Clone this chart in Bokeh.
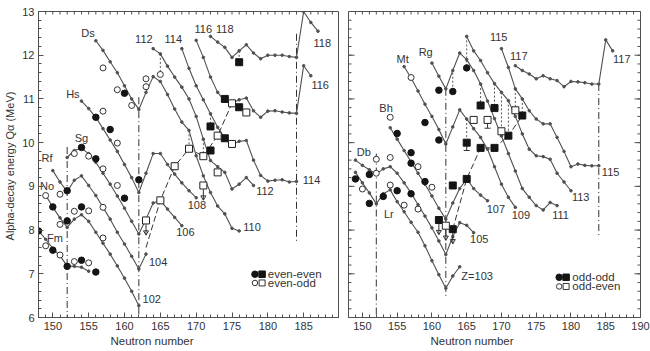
from bokeh.plotting import figure
from bokeh.layouts import row
from bokeh.models import FixedTicker, Range1d, Title
from bokeh.core.properties import value
from bokeh.embed import file_html
from bokeh.resources import INLINE

FONT = "Liberation Sans"
LINE = "#505050"
INK = "#151515"
TXT = "#333333"

# ---------------- LEFT PANEL (even Z): theoretical curves ----------------
N_Z100 = [148, 149, 150, 151, 152, 153, 154, 155]
Q_Z100 = [7.98, 7.79, 7.58, 7.41, 7.18, 7.17, 7.15, 7.06]
N_Z102 = [149, 150, 151, 152, 153, 154, 155, 156, 157, 158, 159, 160, 161, 162]
Q_Z102 = [8.80, 8.52, 8.28, 8.06, 8.25, 8.35, 8.20, 7.95, 7.70, 7.45, 7.18, 6.90, 6.60, 6.27]
N_Z104 = [150, 151, 152, 153, 154, 155, 156, 157, 158, 159, 160, 161, 162, 163]
Q_Z104 = [9.36, 9.10, 8.88, 9.14, 9.24, 9.02, 8.79, 8.52, 8.25, 7.95, 7.68, 7.40, 7.11, 7.45]
N_Z106 = [152, 153, 154, 155, 156, 157, 158, 159, 160, 161, 162, 163, 164, 165, 166, 167, 168]
Q_Z106 = [9.66, 9.82, 9.87, 9.75, 9.55, 9.30, 9.05, 8.78, 8.50, 8.20, 7.91, 8.25, 8.62, 8.68, 8.48, 8.29, 8.10]
N_Z108 = [154, 155, 156, 157, 158, 159, 160, 161, 162, 163, 164, 165, 166, 167, 168, 169, 170]
Q_Z108 = [10.95, 10.78, 10.58, 10.32, 10.06, 9.80, 9.50, 9.20, 8.86, 9.30, 9.75, 9.75, 9.50, 9.28, 9.08, 8.90, 8.74]
N_Z110 = [156, 157, 158, 159, 160, 161, 162, 163, 164, 165, 166, 167, 168, 169, 170, 171, 172, 173, 174, 175, 176]
Q_Z110 = [12.33, 12.11, 11.85, 11.60, 11.30, 11.00, 10.76, 11.15, 11.51, 11.40, 11.10, 10.77, 10.47, 10.28,
          9.70, 9.24, 8.86, 8.55, 8.37, 8.04, 7.98]
N_Z112 = [164, 165, 166, 167, 168, 169, 170, 171, 172, 173, 174, 175, 176, 177, 178]
Q_Z112 = [12.15, 12.03, 11.75, 11.50, 11.27, 11.00, 10.60, 10.08, 9.59, 9.45, 9.32, 8.94, 9.05, 9.20, 9.02]
N_Z114 = [168, 169, 170, 171, 172, 173, 174, 175, 176, 177, 178, 179, 180, 181, 182, 183, 184]
Q_Z114 = [12.15, 11.70, 11.30, 10.98, 10.66, 10.35, 10.10, 9.95, 10.03, 10.05, 9.60, 9.25, 9.12, 9.14, 9.15, 9.10, 9.11]
N_Z116 = [170, 171, 172, 173, 174, 175, 176, 177, 178, 179, 180, 181, 182, 183, 184, 185, 186]
Q_Z116 = [12.34, 11.95, 11.50, 11.15, 10.95, 10.90, 10.98, 11.02, 10.73, 10.58, 10.72, 10.73, 10.70, 10.68,
          10.67, 11.76, 11.53]
N_Z118 = [172, 173, 174, 175, 176, 177, 178, 179, 180, 181, 182, 183, 184, 185, 186, 187]
Q_Z118 = [12.43, 12.30, 12.18, 11.95, 12.10, 12.24, 12.05, 11.92, 12.00, 12.00, 12.00, 11.97, 11.95, 13.00,
          12.75, 12.55]

# left panel experimental values
EE_CIRC_N = [148, 150, 152, 154, 156, 150, 152, 154, 152, 154, 156, 156, 158, 160, 160, 162]
EE_CIRC_Q = [7.98, 7.54, 7.17, 7.31, 7.04, 8.53, 8.21, 8.53, 8.90, 9.89, 9.63, 10.58, 10.30, 11.13, 8.73, 9.15]
EO_CIRC_N = [149, 151, 153, 155, 149, 151, 151, 153, 155, 157, 153, 155, 157, 157, 159, 157, 159, 157, 159,
             161, 163, 163, 165]
EO_CIRC_Q = [7.64, 7.43, 7.28, 7.25, 8.79, 8.82, 8.13, 8.43, 8.44, 7.82, 9.75, 9.69, 9.40, 8.52, 9.02, 10.72,
             9.99, 11.71, 11.21, 10.85, 11.46, 11.28, 11.56]
EE_SQ_N = [172, 174, 176, 174, 172, 176]
EE_SQ_Q = [10.37, 11.00, 10.81, 10.10, 9.82, 11.84]
EO_SQ_N = [163, 165, 167, 169, 171, 173, 175, 177, 175, 173, 171]
EO_SQ_Q = [8.22, 8.68, 9.46, 9.86, 9.69, 10.16, 10.90, 10.69, 9.97, 9.32, 9.02]
ARROW_L_N = [163, 171]
ARROW_L_Q = [8.22, 9.02]
CHAIN_L_N = [163, 165, 167, 169, 171, 173, 175]
CHAIN_L_Q = [7.60, 8.68, 9.46, 9.86, 9.69, 10.16, 10.90]
LINK_L_N = [165, 171, 172, 176, 169]
LINK_L_TOP = [12.03, 10.08, 10.66, 12.10, 10.28]
LINK_L_BOT = [11.56, 9.69, 10.37, 11.84, 9.86]
SHELL_L_N = [152, 162, 184]
SHELL_L_TOP = [9.90, 11.04, 12.49]
SHELL_L_BOT = [6.00, 6.00, 7.72]

LEFT_LABEL_TEXT = ["Ds", "Hs", "Sg", "Rf", "No", "Fm", "112", "114", "116", "118", "118", "116", "114",
                   "112", "110", "108", "106", "104", "102"]
LEFT_LABEL_N = [154.9, 152.8, 154.0, 149.2, 149.2, 150.3, 162.7, 166.8, 171.0, 174.0, 187.6, 187.3, 186.1,
                179.6, 177.8, 170.1, 168.5, 164.7, 163.8]
LEFT_LABEL_Q = [12.50, 11.12, 10.10, 9.66, 9.00, 7.83, 12.37, 12.37, 12.60, 12.60, 12.29, 11.31, 9.15,
                8.90, 8.06, 8.57, 7.95, 7.28, 6.42]

# ---------------- RIGHT PANEL (odd Z): theoretical curves ----------------
N_Z103 = [149, 150, 151, 152, 153, 154, 155, 156, 157, 158, 159, 160, 161, 162, 163, 164]
Q_Z103 = [9.32, 9.08, 8.85, 8.60, 8.83, 8.92, 8.65, 8.42, 8.18, 7.95, 7.64, 7.30, 6.98, 6.67, 6.95, 7.16]
N_Z105 = [149, 150, 151, 152, 153, 154, 155, 156, 157, 158, 159, 160, 161, 162, 163, 164, 165, 166]
Q_Z105 = [9.60, 9.48, 9.38, 9.28, 9.40, 9.45, 9.30, 9.08, 8.85, 8.58, 8.32, 8.05, 7.75, 7.44, 7.85, 8.17,
          8.11, 7.94]
N_Z107 = [154, 155, 156, 157, 158, 159, 160, 161, 162, 163, 164, 165, 166, 167, 168]
Q_Z107 = [10.34, 10.08, 9.82, 9.56, 9.30, 9.05, 8.78, 8.50, 8.25, 8.62, 8.95, 9.17, 8.95, 8.80, 8.67]
N_Z109 = [156, 157, 158, 159, 160, 161, 162, 163, 164, 165, 166, 167, 168, 169, 170, 171, 172]
Q_Z109 = [11.74, 11.48, 11.18, 10.88, 10.60, 10.30, 9.97, 10.36, 10.75, 10.54, 10.32, 10.12, 9.85, 9.45,
          9.05, 8.75, 8.52]
N_Z111 = [160, 161, 162, 163, 164, 165, 166, 167, 168, 169, 170, 171, 172, 173, 174, 175, 176, 177, 178]
Q_Z111 = [11.82, 11.52, 11.23, 11.65, 12.05, 11.90, 11.65, 11.34, 10.95, 10.55, 10.15, 9.75, 9.35, 8.95,
          8.75, 8.56, 8.46, 8.63, 8.56]
N_Z113 = [165, 166, 167, 168, 169, 170, 171, 172, 173, 174, 175, 176, 177, 178, 179, 180]
Q_Z113 = [12.43, 12.10, 11.88, 11.60, 11.35, 11.15, 10.96, 10.60, 10.20, 9.85, 9.70, 9.68, 9.62, 9.30,
          9.10, 8.90]
N_Z115 = [170, 171, 172, 173, 174, 175, 176, 177, 178, 179, 180, 181, 182, 183, 184]
Q_Z115 = [12.15, 11.72, 11.23, 11.00, 10.73, 10.54, 10.43, 10.43, 10.12, 9.80, 9.45, 9.51, 9.48, 9.47, 9.47]
N_Z117 = [172, 173, 174, 175, 176, 177, 178, 179, 180, 181, 182, 183, 184, 185, 186]
Q_Z117 = [11.76, 11.65, 11.57, 11.46, 11.53, 11.46, 11.42, 11.28, 11.40, 11.39, 11.37, 11.34, 11.34,
          12.35, 12.10]

# right panel experimental values
OO_CIRC_N = [149, 151, 153, 155, 157, 159, 151, 157, 155, 157, 159, 161, 161, 163, 165]
OO_CIRC_Q = [9.17, 8.61, 8.77, 8.90, 8.83, 9.11, 9.27, 9.53, 10.21, 9.77, 10.46, 11.20, 10.06, 11.17, 11.71]
OE_CIRC_N = [150, 152, 154, 156, 158, 160, 152, 158, 154, 154, 157]
OE_CIRC_Q = [8.94, 9.30, 9.03, 8.57, 8.48, 8.98, 9.62, 9.45, 9.66, 10.58, 11.49]
OO_SQ_N = [161, 163, 163, 165, 165, 167, 169, 167, 169, 171, 173]
OO_SQ_Q = [8.23, 8.02, 9.02, 9.17, 10.00, 10.85, 10.79, 9.88, 9.88, 10.16, 10.62]
OE_SQ_N = [162, 166, 168, 170, 172]
OE_SQ_Q = [8.10, 10.52, 10.52, 10.26, 10.74]
ARROW_R_N = [161, 162, 163]
ARROW_R_Q = [8.23, 8.10, 8.02]
ERR_R_N = [165, 168]
ERR_R_Q = [10.00, 10.52]
ERR_R_LOW = [9.82, 10.33]
CHAIN_R_N = [163, 165, 167, 169, 171, 173]
CHAIN_R_Q = [8.02, 9.17, 9.88, 9.88, 10.16, 10.62]
LINK_R_N = [163, 165, 167, 169, 165, 171, 172, 173, 170]
LINK_R_TOP = [11.60, 12.43, 11.34, 11.35, 10.54, 10.96, 11.23, 11.00, 11.15]
LINK_R_BOT = [11.17, 11.71, 10.85, 10.79, 10.00, 10.16, 10.74, 10.62, 10.26]
SHELL_R_N = [152, 162, 184]
SHELL_R_TOP = [9.75, 11.23, 11.34]
SHELL_R_BOT = [6.00, 6.43, 7.87]

RIGHT_LABEL_TEXT = ["Db", "Bh", "Mt", "Rg", "115", "117", "117", "115", "113", "111", "109", "107", "105",
                    "Z=103", "Lr"]
RIGHT_LABEL_N = [150.2, 153.4, 155.8, 159.1, 169.6, 172.5, 187.3, 185.7, 181.4, 178.5, 172.8, 169.2,
                 166.8, 166.5, 153.8]
RIGHT_LABEL_Q = [9.78, 10.79, 11.92, 12.07, 12.41, 11.99, 11.92, 9.32, 8.76, 8.35, 8.35, 8.48, 7.80,
                 6.95, 8.37]

X_MAJOR_LEFT = [150, 155, 160, 165, 170, 175, 180, 185]
X_MAJOR_RIGHT = [150, 155, 160, 165, 170, 175, 180, 185, 190]
X_MINOR = list(range(148, 191))
Y_MAJOR = [6, 7, 8, 9, 10, 11, 12, 13]
Y_MINOR = [6 + 0.2 * i for i in range(36)]

X0, X1, Y0, Y1 = 148, 190, 6, 13
FRAME_H = 306


def style_axis(ax, tin=5, tout=0):
    ax.axis_line_color = LINE
    ax.major_tick_line_color = LINE
    ax.minor_tick_line_color = LINE
    ax.major_tick_in = tin
    ax.major_tick_out = tout
    ax.minor_tick_in = 3
    ax.minor_tick_out = 0
    ax.major_label_text_font = FONT
    ax.major_label_text_font_size = "11px"
    ax.major_label_text_color = TXT
    ax.major_label_standoff = 4


def make_panel(width, min_left, min_right, x_major):
    p = figure(width=width, height=351, x_range=Range1d(X0, X1), y_range=Range1d(Y0, Y1),
               output_backend="svg", toolbar_location=None,
               min_border_left=min_left, min_border_right=min_right,
               min_border_top=11, min_border_bottom=34)
    p.xgrid.visible = False
    p.ygrid.visible = False
    p.outline_line_color = LINE
    p.outline_line_width = 1
    p.xaxis.ticker = FixedTicker(ticks=x_major, minor_ticks=X_MINOR)
    p.yaxis.ticker = FixedTicker(ticks=Y_MAJOR, minor_ticks=Y_MINOR)
    return p


def inner_ticks(p, frame_w, sides):
    # tick marks drawn inside the frame on sides without a labelled axis
    dx = (X1 - X0) / frame_w
    dy = (Y1 - Y0) / FRAME_H
    kw = dict(line_color=LINE, line_width=1)
    if "top" in sides:
        p.segment(X_MINOR, [Y1] * len(X_MINOR), X_MINOR, [Y1 - 3 * dy] * len(X_MINOR), **kw)
    if "right" in sides:
        p.segment([X1] * len(Y_MINOR), Y_MINOR, [X1 - 3 * dx] * len(Y_MINOR), Y_MINOR, **kw)
        p.segment([X1] * len(Y_MAJOR), Y_MAJOR, [X1 - 6 * dx] * len(Y_MAJOR), Y_MAJOR, **kw)
    if "left" in sides:
        p.segment([X0] * len(Y_MINOR), Y_MINOR, [X0 + 3 * dx] * len(Y_MINOR), Y_MINOR, **kw)
        p.segment([X0] * len(Y_MAJOR), Y_MAJOR, [X0 + 6 * dx] * len(Y_MAJOR), Y_MAJOR, **kw)


def draw_curves(p, curves):
    for xs, ys in curves:
        p.line(xs, ys, line_color=LINE, line_width=1.1)
        p.scatter(xs, ys, size=2.6, color=LINE)


def draw_text(p, xs, ys, texts):
    p.text(x=xs, y=ys, text=texts, text_font=value(FONT), text_font_size="11px",
           text_color=TXT, text_align="center", text_baseline="middle")


def draw_points(p, fcn, fcq, ocn, ocq, fsn, fsq, osn, osq):
    p.scatter(fcn, fcq, marker="circle", size=6.5, fill_color=INK, line_color=INK)
    p.scatter(ocn, ocq, marker="circle", size=6, fill_color="white", line_color="#333333", line_width=1)
    p.scatter(fsn, fsq, marker="square", size=7, fill_color=INK, line_color=INK)
    p.scatter(osn, osq, marker="square", size=7, fill_color="white", line_color="#222222", line_width=1)


def draw_arrows(p, xs, ys):
    p.segment(xs, [y - 0.09 for y in ys], xs, [y - 0.33 for y in ys], line_color="#333333", line_width=1)
    p.scatter(xs, [y - 0.27 for y in ys], marker="inverted_triangle", size=5,
              fill_color=None, line_color="#333333")


def draw_shell(p, xs, top, bot):
    p.segment(xs, top, xs, bot, line_color="#333333", line_width=1, line_dash="7 3 1 3")


def draw_links(p, xs, top, bot):
    p.segment(xs, top, xs, bot, line_color="#555555", line_width=1, line_dash="2 2")


def legend(p, xc, xsq, xt, y1, y2, t1, t2):
    p.scatter([xc], [y1], marker="circle", size=6.5, fill_color=INK, line_color=INK)
    p.scatter([xsq], [y1], marker="square", size=6.5, fill_color=INK, line_color=INK)
    p.scatter([xc], [y2], marker="circle", size=5.5, fill_color="white", line_color="#333333")
    p.scatter([xsq], [y2], marker="square", size=6, fill_color="white", line_color="#333333")
    p.text(x=[xt, xt], y=[y1, y2], text=[t1, t2], text_font=value(FONT), text_font_size="11.5px",
           text_color=TXT, text_align="left", text_baseline="middle")


def x_title(p, offset):
    t = Title(text="Neutron number", align="left", offset=offset, text_font=FONT,
              text_font_size="11.5px", text_font_style="normal", text_color=TXT, standoff=0)
    p.add_layout(t, "below")


# ---------------- left figure ----------------
p1 = make_panel(339, 38, 0, X_MAJOR_LEFT)
style_axis(p1.xaxis[0])
style_axis(p1.yaxis[0])
p1.yaxis.axis_label = "Alpha-decay energy  Q\u03b1 (MeV)"
p1.yaxis.axis_label_text_font = FONT
p1.yaxis.axis_label_text_font_size = "11px"
p1.yaxis.axis_label_text_font_style = "normal"
p1.yaxis.axis_label_text_color = TXT
p1.yaxis.axis_label_standoff = 3
x_title(p1, 72)
inner_ticks(p1, 301, ["top"])

draw_shell(p1, SHELL_L_N, SHELL_L_TOP, SHELL_L_BOT)
draw_links(p1, LINK_L_N, LINK_L_TOP, LINK_L_BOT)
p1.line(CHAIN_L_N, CHAIN_L_Q, line_color="#333333", line_width=1, line_dash="6 3")
draw_curves(p1, [(N_Z100, Q_Z100), (N_Z102, Q_Z102), (N_Z104, Q_Z104), (N_Z106, Q_Z106),
                 (N_Z108, Q_Z108), (N_Z110, Q_Z110), (N_Z112, Q_Z112), (N_Z114, Q_Z114),
                 (N_Z116, Q_Z116), (N_Z118, Q_Z118)])
draw_arrows(p1, ARROW_L_N, ARROW_L_Q)
draw_points(p1, EE_CIRC_N, EE_CIRC_Q, EO_CIRC_N, EO_CIRC_Q, EE_SQ_N, EE_SQ_Q, EO_SQ_N, EO_SQ_Q)
draw_text(p1, LEFT_LABEL_N, LEFT_LABEL_Q, LEFT_LABEL_TEXT)
legend(p1, 178.2, 179.2, 180.0, 6.99, 6.79, "even-even", "even-odd")

# ---------------- right figure ----------------
p2 = make_panel(311, 9, 10, X_MAJOR_RIGHT)
style_axis(p2.xaxis[0])
p2.yaxis.visible = False
x_title(p2, 82)
inner_ticks(p2, 292, ["top", "right", "left"])

draw_shell(p2, SHELL_R_N, SHELL_R_TOP, SHELL_R_BOT)
draw_links(p2, LINK_R_N, LINK_R_TOP, LINK_R_BOT)
p2.line(CHAIN_R_N, CHAIN_R_Q, line_color="#333333", line_width=1, line_dash="6 3")
draw_curves(p2, [(N_Z103, Q_Z103), (N_Z105, Q_Z105), (N_Z107, Q_Z107), (N_Z109, Q_Z109),
                 (N_Z111, Q_Z111), (N_Z113, Q_Z113), (N_Z115, Q_Z115), (N_Z117, Q_Z117)])
p2.segment(ERR_R_N, ERR_R_Q, ERR_R_N, ERR_R_LOW, line_color="#333333", line_width=1)
p2.scatter(ERR_R_N, ERR_R_LOW, marker="dash", size=6, line_color="#333333")
draw_arrows(p2, ARROW_R_N, ARROW_R_Q)
draw_points(p2, OO_CIRC_N, OO_CIRC_Q, OE_CIRC_N, OE_CIRC_Q, OO_SQ_N, OO_SQ_Q, OE_SQ_N, OE_SQ_Q)
draw_text(p2, RIGHT_LABEL_N, RIGHT_LABEL_Q, RIGHT_LABEL_TEXT)
legend(p2, 178.3, 179.3, 180.2, 6.92, 6.71, "odd-odd", "odd-even")

layout = row(p1, p2)
open("out.html", "w").write(file_html(layout, INLINE))
